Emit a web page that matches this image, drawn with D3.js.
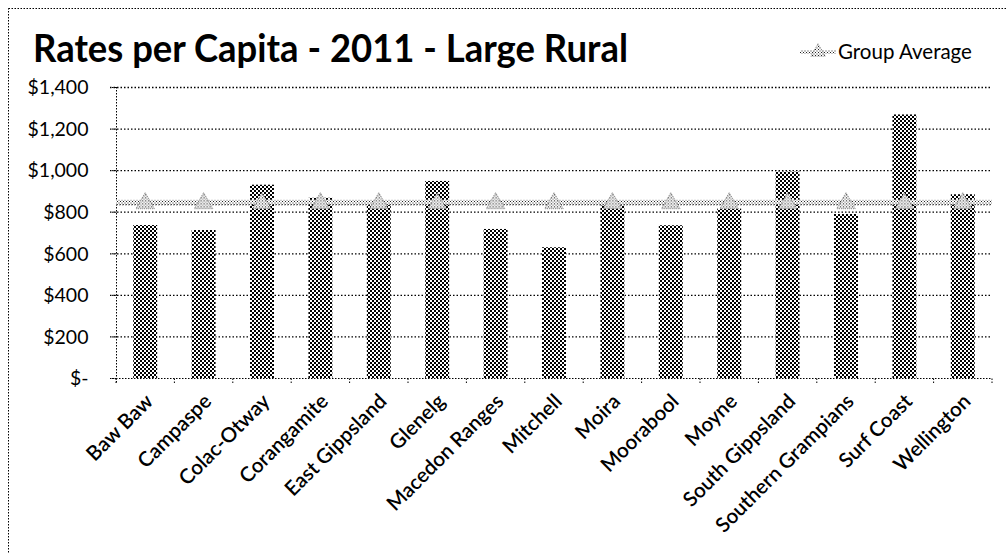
<!DOCTYPE html>
<html>
<head>
<meta charset="utf-8">
<script src="https://cdn.jsdelivr.net/npm/d3@7"></script>
<style>
  body { margin: 0; background: #fff; }
  text { font-family: Lato, "Open Sans", sans-serif; fill: #000; }
</style>
</head>
<body>
<div id="chart"></div>
<script>
'use strict';

var councils = ['Baw Baw', 'Campaspe', 'Colac-Otway', 'Corangamite', 'East Gippsland',
  'Glenelg', 'Macedon Ranges', 'Mitchell', 'Moira', 'Moorabool', 'Moyne',
  'South Gippsland', 'Southern Grampians', 'Surf Coast', 'Wellington'];
var rates = [736, 712, 930, 867, 832, 948, 717, 629, 830, 735, 815, 993, 789, 1268, 884];
var groupAverage = [845, 845, 845, 845, 845, 845, 845, 845, 845, 845, 845, 845, 845, 845, 845];
var yTicks = [0, 200, 400, 600, 800, 1000, 1200, 1400];

var width = 1006, height = 553;
var plot = { left: 116, right: 992, top: 87, bottom: 378 };

var svg = d3.select('#chart').append('svg')
  .attr('width', width)
  .attr('height', height);

var defs = svg.append('defs');

// checker pattern for the bars
var barPat = defs.append('pattern')
  .attr('id', 'barPat')
  .attr('patternUnits', 'userSpaceOnUse')
  .attr('width', 4).attr('height', 4);
barPat.append('rect').attr('width', 4).attr('height', 4).attr('fill', '#fff');
barPat.append('rect').attr('x', 0).attr('y', 0).attr('width', 2).attr('height', 2).attr('fill', '#000');
barPat.append('rect').attr('x', 2).attr('y', 2).attr('width', 2).attr('height', 2).attr('fill', '#000');

// lighter pattern for the average line
var linePat = defs.append('pattern')
  .attr('id', 'linePat')
  .attr('patternUnits', 'userSpaceOnUse')
  .attr('width', 3).attr('height', 3);
linePat.append('rect').attr('width', 3).attr('height', 3).attr('fill', '#fff');
linePat.append('rect').attr('x', 0).attr('y', 0).attr('width', 1).attr('height', 1).attr('fill', '#222');
linePat.append('rect').attr('x', 1.5).attr('y', 1.5).attr('width', 1).attr('height', 1).attr('fill', '#222');

// outer dotted frame
svg.append('rect')
  .attr('x', 8.5).attr('y', 8.5)
  .attr('width', 1100).attr('height', 600)
  .attr('fill', 'none')
  .attr('stroke', '#000')
  .attr('stroke-dasharray', '1.5,1.5');

var x = d3.scaleBand()
  .domain(councils)
  .range([plot.left, plot.right])
  .paddingInner(0.59)
  .paddingOuter(0.295);

var xBand = d3.scaleBand()
  .domain(councils)
  .range([plot.left, plot.right]);

var y = d3.scaleLinear()
  .domain([0, 1400])
  .range([plot.bottom, plot.top]);

// gridlines
svg.append('g')
  .selectAll('line')
  .data(yTicks.slice(1))
  .join('line')
  .attr('x1', plot.left - 6).attr('x2', plot.right)
  .attr('y1', function(d) { return y(d) + 0.5; })
  .attr('y2', function(d) { return y(d) + 0.5; })
  .attr('stroke', '#000')
  .attr('stroke-width', 1.3)
  .attr('stroke-dasharray', '1.5,2');

// y axis
var yAxis = d3.axisLeft(y)
  .tickValues(yTicks)
  .tickSize(6)
  .tickPadding(22)
  .tickFormat(function(d) { return d === 0 ? '$-' : '$' + d3.format(',')(d); });

var gy = svg.append('g')
  .attr('transform', 'translate(' + (plot.left + 0.5) + ',0)')
  .call(yAxis);
gy.select('.domain')
  .attr('d', 'M0,' + plot.top + 'V' + (plot.bottom + 6))
  .attr('stroke', '#000')
  .attr('stroke-dasharray', '1.5,1.5');
gy.selectAll('.tick line').attr('stroke', '#000').attr('stroke-dasharray', '1.5,1.5');
gy.selectAll('.tick text')
  .style('font-size', '19.5px')
  .attr('dy', '0.35em');

// bars
svg.append('g')
  .selectAll('rect')
  .data(rates)
  .join('rect')
  .attr('x', function(d, i) { return x(councils[i]); })
  .attr('y', function(d) { return y(d); })
  .attr('width', x.bandwidth())
  .attr('height', function(d) { return y(0) - y(d); })
  .attr('fill', 'url(#barPat)');

// x axis
var xAxis = d3.axisBottom(xBand).tickSize(0).tickFormat('');
var gx = svg.append('g')
  .attr('transform', 'translate(0,' + (plot.bottom + 0.5) + ')')
  .call(xAxis);
gx.select('.domain')
  .attr('d', 'M' + (plot.left - 6) + ',0H' + plot.right)
  .attr('stroke', '#000')
  .attr('stroke-dasharray', '1.5,1.5');

var bounds = councils.map(function(c) { return xBand(c); }).concat([plot.right]);
gx.append('g')
  .selectAll('line')
  .data(bounds)
  .join('line')
  .attr('x1', function(d) { return d; })
  .attr('x2', function(d) { return d; })
  .attr('y1', 0).attr('y2', 6)
  .attr('stroke', '#000')
  .attr('stroke-dasharray', '1.5,1.5');

gx.append('g')
  .selectAll('text')
  .data(councils)
  .join('text')
  .attr('transform', function(d) {
    return 'translate(' + (xBand(d) + xBand.bandwidth() / 2 - 1) + ',' + 14 + ') rotate(-45)';
  })
  .attr('text-anchor', 'end')
  .attr('dy', '0.7em')
  .style('font-size', '20.5px')
  .style('font-weight', '600')
  .text(function(d) { return d; });

// group average line
var cx = function(i) { return xBand(councils[i]) + xBand.bandwidth() / 2; };
var avgLine = d3.line()
  .x(function(d, i) { return i === 0 ? plot.left : (i === groupAverage.length - 1 ? plot.right : cx(i)); })
  .y(function(d) { return y(d); });

var avgPts = groupAverage.slice();
svg.append('path')
  .datum(avgPts)
  .attr('d', avgLine)
  .attr('fill', 'none')
  .attr('stroke', 'url(#linePat)')
  .attr('stroke-width', 5);
svg.append('path')
  .datum(avgPts)
  .attr('d', avgLine)
  .attr('fill', 'none')
  .attr('stroke', '#000')
  .attr('stroke-width', 0.6)
  .attr('stroke-dasharray', '1.5,1.5')
  .attr('transform', 'translate(0,2.5)');

var tri = d3.symbol().type(d3.symbolTriangle).size(150);
svg.append('g')
  .selectAll('path')
  .data(groupAverage)
  .join('path')
  .attr('d', tri)
  .attr('transform', function(d, i) { return 'translate(' + cx(i) + ',' + (y(d) + 1) + ')'; })
  .attr('fill', 'url(#linePat)')
  .attr('stroke', '#444')
  .attr('stroke-width', 0.6)
  .attr('stroke-dasharray', '1,1');

// title
svg.append('text')
  .attr('x', 33)
  .attr('y', 62)
  .attr('textLength', 595)
  .attr('lengthAdjust', 'spacingAndGlyphs')
  .style('font-size', '39px')
  .style('font-weight', 'bold')
  .text('Rates per Capita - 2011 - Large Rural');

// legend
var lg = svg.append('g').attr('transform', 'translate(800,52)');
lg.append('line')
  .attr('x1', 0).attr('x2', 36)
  .attr('y1', 0).attr('y2', 0)
  .attr('stroke', 'url(#linePat)')
  .attr('stroke-width', 4);
lg.append('path')
  .attr('d', d3.symbol().type(d3.symbolTriangle).size(90))
  .attr('transform', 'translate(18,0)')
  .attr('fill', 'url(#linePat)')
  .attr('stroke', '#444')
  .attr('stroke-width', 0.6)
  .attr('stroke-dasharray', '1,1');
lg.append('text')
  .attr('x', 38)
  .attr('dy', '0.35em')
  .style('font-size', '20.5px')
  .text('Group Average');
</script>
</body>
</html>
